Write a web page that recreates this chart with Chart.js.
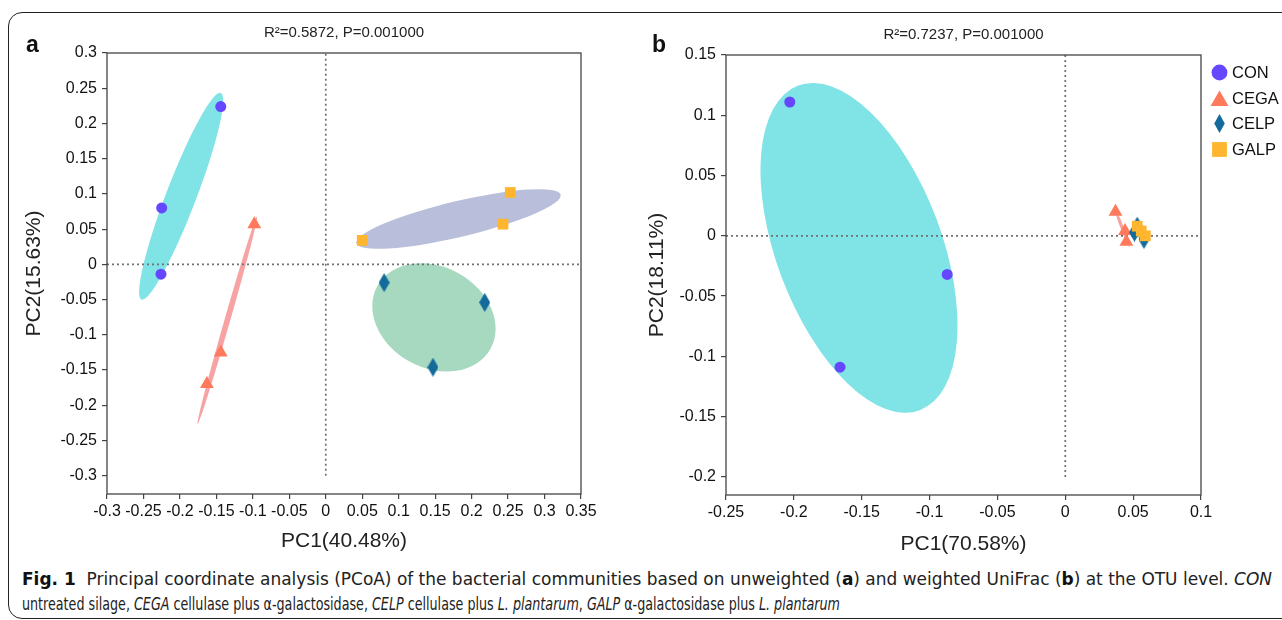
<!DOCTYPE html>
<html>
<head>
<meta charset="utf-8">
<script src="https://cdn.jsdelivr.net/npm/chart.js@4.4.1/dist/chart.umd.min.js"></script>
<style>
  body { margin: 0; background: #fff; width: 1282px; height: 620px; overflow: hidden; position: relative;
         font-family: "Liberation Sans", Arial, sans-serif; color: #111; }
  .frame { position: absolute; left: 8px; top: 12px; width: 1300px; height: 605px;
           border: 1.3px solid #222; border-radius: 14px; }
  .panel { position: absolute; top: 0; height: 560px; }
  #pa { left: 0; width: 640px; }
  #pb { left: 640px; width: 642px; }
  .tag { position: absolute; top: 31px; font: bold 23px "Liberation Sans", Arial, sans-serif; }
  #legend { position: absolute; left: 1210px; top: 60px; font: 16.5px "Liberation Sans", Arial, sans-serif; }
  #legend .li { height: 25.5px; display: flex; align-items: center; }
  #legend svg { width: 19px; height: 19px; margin-right: 3px; }
  .caption { position: absolute; left: 22px; top: 566px; font: 18px "DejaVu Sans Condensed", "Open Sans", sans-serif;
             line-height: 25px; color: #222; white-space: nowrap; }
  .caption span { display: inline-block; transform-origin: 0 50%; }
  .caption b { color: #111; }
</style>
</head>
<body>
<div class="frame"></div>
<div class="panel" id="pa"><canvas id="chartA"></canvas></div>
<div class="panel" id="pb"><canvas id="chartB"></canvas></div>
<div class="tag" style="left:26px">a</div>
<div class="tag" style="left:652px">b</div>
<div id="legend"></div>
<div class="caption">
  <div><span id="cap1"><b>Fig. 1</b>&nbsp; Principal coordinate analysis (PCoA) of the bacterial communities based on unweighted (<b>a</b>) and weighted UniFrac (<b>b</b>) at the OTU level. <i>CON</i></span></div>
  <div><span id="cap2">untreated silage, <i>CEGA</i> cellulase plus α-galactosidase, <i>CELP</i> cellulase plus <i>L. plantarum</i>, <i>GALP</i> α-galactosidase plus <i>L. plantarum</i></span></div>
</div>

<script>
// groups
const groups = ["CON", "CEGA", "CELP", "GALP"];

// panel a - unweighted UniFrac
const aConX  = [-0.144, -0.225, -0.226];
const aConY  = [0.224, 0.080, -0.014];
const aCegaX = [-0.098, -0.144, -0.163];
const aCegaY = [0.057, -0.125, -0.170];
const aCelpX = [0.080, 0.218, 0.147];
const aCelpY = [-0.026, -0.054, -0.146];
const aGalpX = [0.050, 0.253, 0.243];
const aGalpY = [0.034, 0.102, 0.057];

// panel b - weighted UniFrac
const bConX  = [-0.203, -0.087, -0.166];
const bConY  = [0.111, -0.032, -0.109];
const bCegaX = [0.037, 0.044, 0.045];
const bCegaY = [0.020, 0.004, -0.005];
const bCelpX = [0.053, 0.051, 0.058];
const bCelpY = [0.008, 0.003, -0.003];
const bGalpX = [0.053, 0.059, 0.056];
const bGalpY = [0.008, 0.000, 0.004];

// ticks
const aXTicks = [-0.3, -0.25, -0.2, -0.15, -0.1, -0.05, 0, 0.05, 0.1, 0.15, 0.2, 0.25, 0.3, 0.35];
const aYTicks = [-0.3, -0.25, -0.2, -0.15, -0.1, -0.05, 0, 0.05, 0.1, 0.15, 0.2, 0.25, 0.3];
const bXTicks = [-0.25, -0.2, -0.15, -0.1, -0.05, 0, 0.05, 0.1];
const bYTicks = [-0.2, -0.15, -0.1, -0.05, 0, 0.05, 0.1, 0.15];

const pointColors   = ["#6447ff", "#ff7a5c", "#136b9b", "#ffb62e"];
const ellipseColors = ["#80e3e6", "#f8a3a3", "#a7d8c0", "#b9bfda"];
const K = 1.225; // ellipse scale

Chart.defaults.font.family = "'Liberation Sans', Arial, sans-serif";
Chart.defaults.color = "#111";

function diamondImg(w, h, color) {
  const c = document.createElement("canvas");
  c.width = w; c.height = h;
  const g = c.getContext("2d");
  g.fillStyle = color;
  g.beginPath();
  g.moveTo(w / 2, 0); g.lineTo(w, h / 2); g.lineTo(w / 2, h); g.lineTo(0, h / 2);
  g.closePath(); g.fill();
  return c;
}

const pcoaPlugin = {
  id: "pcoa",
  beforeDatasetsDraw(chart, args, opts) {
    const { ctx, chartArea, scales: { x, y } } = chart;
    ctx.save();
    ctx.beginPath();
    ctx.rect(chartArea.left, chartArea.top, chartArea.width, chartArea.height);
    ctx.clip();
    // confidence ellipses from the group points
    chart.data.datasets.forEach(ds => {
      const px = ds.data.map(p => x.getPixelForValue(p.x));
      const py = ds.data.map(p => y.getPixelForValue(p.y));
      const n = px.length;
      const mx = px.reduce((s, v) => s + v, 0) / n;
      const my = py.reduce((s, v) => s + v, 0) / n;
      let sxx = 0, syy = 0, sxy = 0;
      for (let i = 0; i < n; i++) {
        sxx += (px[i] - mx) ** 2; syy += (py[i] - my) ** 2; sxy += (px[i] - mx) * (py[i] - my);
      }
      sxx /= n - 1; syy /= n - 1; sxy /= n - 1;
      const tr = (sxx + syy) / 2, d = Math.sqrt(((sxx - syy) / 2) ** 2 + sxy * sxy);
      const l1 = tr + d, l2 = Math.max(tr - d, 0);
      const ang = 0.5 * Math.atan2(2 * sxy, sxx - syy);
      ctx.fillStyle = ds.ellipseColor;
      ctx.beginPath();
      ctx.ellipse(mx, my, K * Math.sqrt(l1), Math.max(K * Math.sqrt(l2), 0.8), ang, 0, Math.PI * 2);
      ctx.fill();
    });
    // dotted zero lines
    ctx.strokeStyle = "#707070";
    ctx.lineWidth = 1.7;
    ctx.setLineDash([2, 3]);
    const x0 = x.getPixelForValue(0), y0 = y.getPixelForValue(0);
    ctx.beginPath();
    ctx.moveTo(x0, y.getPixelForValue(opts.vLine[0]));
    ctx.lineTo(x0, y.getPixelForValue(opts.vLine[1]));
    ctx.moveTo(x.getPixelForValue(opts.hLine[0]), y0);
    ctx.lineTo(x.getPixelForValue(opts.hLine[1]), y0);
    ctx.stroke();
    ctx.restore();
  },
  afterDraw(chart) {
    const { ctx, chartArea: a } = chart;
    ctx.save();
    ctx.strokeStyle = "#444";
    ctx.lineWidth = 1.3;
    ctx.strokeRect(a.left, a.top, a.right - a.left, a.bottom - a.top);
    ctx.restore();
  }
};

function makeDatasets(xs, ys) {
  const styles = ["circle", "triangle", diamondImg(11, 19, pointColors[2]), "rect"];
  const radii = [5.5, 8, 6, 7.6];
  return groups.map((g, i) => ({
    label: g,
    data: xs[i].map((v, j) => ({ x: v, y: ys[i][j] })),
    pointStyle: styles[i],
    pointRadius: radii[i],
    backgroundColor: pointColors[i],
    borderColor: pointColors[i],
    borderWidth: 0,
    ellipseColor: ellipseColors[i],
    order: 3 - i
  }));
}

function axis(min, max, ticks, title, titlePad, size, fitKey) {
  return {
    type: "linear", min: min, max: max,
    afterBuildTicks: s => { s.ticks = ticks.map(v => ({ value: v })); },
    afterFit: s => { s[fitKey] = size; },
    border: { display: false },
    grid: { drawOnChartArea: false, drawTicks: true, tickLength: 5, color: "#444", lineWidth: 1.2 },
    ticks: { padding: fitKey === "width" ? 5 : 3, font: { size: 16 }, color: "#111",
             maxRotation: 0, autoSkip: false, callback: v => String(v) },
    title: { display: true, text: title, font: { size: 21 }, color: "#222", padding: titlePad }
  };
}

function makeChart(id, cfg) {
  return new Chart(document.getElementById(id), {
    type: "scatter",
    data: { datasets: makeDatasets(cfg.xs, cfg.ys) },
    options: {
      responsive: true, maintainAspectRatio: false, animation: false, events: [],
      layout: { padding: cfg.padding },
      scales: {
        x: axis(cfg.xMin, cfg.xMax, cfg.xTicks, cfg.xTitle, { top: 0, bottom: cfg.xTitlePad }, cfg.xHeight, "height"),
        y: axis(cfg.yMin, cfg.yMax, cfg.yTicks, cfg.yTitle, { top: cfg.yTitlePad, bottom: 0 }, cfg.yWidth, "width")
      },
      plugins: {
        legend: { display: false },
        tooltip: { enabled: false },
        title: { display: true, text: cfg.title, fullSize: false, font: { size: 15, weight: "normal" },
                 color: "#222", padding: cfg.titlePad },
        pcoa: { vLine: cfg.vLine, hLine: cfg.hLine }
      }
    },
    plugins: [pcoaPlugin]
  });
}

makeChart("chartA", {
  xs: [aConX, aCegaX, aCelpX, aGalpX], ys: [aConY, aCegaY, aCelpY, aGalpY],
  xMin: -0.3, xMax: 0.35, yMin: -0.326, yMax: 0.3,
  xTicks: aXTicks, yTicks: aYTicks,
  xTitle: "PC1(40.48%)", yTitle: "PC2(15.63%)",
  title: "R²=0.5872, P=0.001000",
  padding: { left: 20, right: 59, top: 0, bottom: 6 },
  xHeight: 60, yWidth: 87, xTitlePad: 0, yTitlePad: 2,
  titlePad: { top: 24, bottom: 11 },
  vLine: [-0.3, 0.3], hLine: [-0.3, 0.35]
});

makeChart("chartB", {
  xs: [bConX, bCegaX, bCelpX, bGalpX], ys: [bConY, bCegaY, bCelpY, bGalpY],
  xMin: -0.25, xMax: 0.1, yMin: -0.215, yMax: 0.15,
  xTicks: bXTicks, yTicks: bYTicks,
  xTitle: "PC1(70.58%)", yTitle: "PC2(18.11%)",
  title: "R²=0.7237, P=0.001000",
  padding: { left: 3, right: 81, top: 0, bottom: 3 },
  xHeight: 62, yWidth: 83, xTitlePad: 0, yTitlePad: 2,
  titlePad: { top: 26, bottom: 11 },
  vLine: [-0.2, 0.15], hLine: [-0.25, 0.1]
});

// legend
const shapes = [
  c => `<circle cx="9" cy="9" r="7.5" fill="${c}"/>`,
  c => `<polygon points="9,1.5 17.5,16 0.5,16" fill="${c}"/>`,
  c => `<polygon points="9,0 14,9 9,18 4,9" fill="${c}"/>`,
  c => `<rect x="2" y="2" width="14" height="14" fill="${c}"/>`
];
document.getElementById("legend").innerHTML = groups.map((g, i) =>
  `<div class="li"><svg viewBox="0 0 18 18">${shapes[i](pointColors[i])}</svg><span>${g}</span></div>`).join("");

// caption lines, each squeezed to its width in the figure
[["cap1", 1250], ["cap2", 818]].forEach(([id, w]) => {
  const el = document.getElementById(id);
  el.style.transform = `scaleX(${w / el.getBoundingClientRect().width})`;
});
</script>
</body>
</html>
